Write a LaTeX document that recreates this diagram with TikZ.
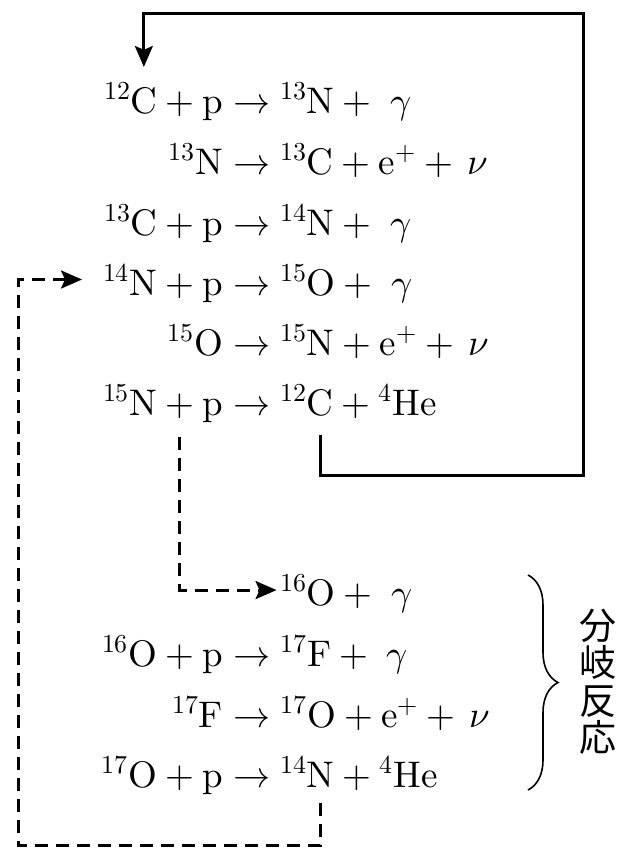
\documentclass[tikz,border=0pt]{standalone}
\usepackage{unicode-math}
\setmathfont{Latin Modern Math}
\newfontfamily\cjk{Noto Sans CJK JP}
\usetikzlibrary{arrows.meta,positioning,decorations.pathreplacing}
\newcommand{\eqsize}{\fontsize{37}{40}\selectfont}
\newcommand{\nuc}[2]{{}^{#1}\symup{#2}}
\tikzset{
  eq/.style      ={inner sep=0pt,outer sep=0pt,font=\eqsize},
  mainloop/.style={line width=3pt,line join=miter,-{Stealth[length=21pt,width=18pt,inset=4pt]}},
  sideloop/.style={mainloop,dash pattern=on 13pt off 8pt},
  bracket/.style ={decorate,decoration={brace,amplitude=30pt},line width=1.6pt},
}

\begin{document}
\begin{tikzpicture}[x=1pt,y=-1pt]
  \useasboundingbox (0,0) rectangle (622,849);
  \def\ax{223}
  % reaction arrows, all in one column
  \foreach \n/\y in {1/113,2/174,3/235,4/295,5/355,6/415,8/666,9/727,10/787}
    \node[eq,anchor=base west] (a\n) at (\ax,\y) {${}\rightarrow{}$};
  % rows with nothing attached
  \foreach \n/\lhs/\rhs in {2/{\nuc{13}{N}}/{\nuc{13}{C}+\symup{e}^{+}+\,\nu},
      3/{\nuc{13}{C}+\symup{p}}/{\nuc{14}{N}+\;\gamma},
      5/{\nuc{15}{O}}/{\nuc{15}{N}+\symup{e}^{+}+\,\nu},
      8/{\nuc{16}{O}+\symup{p}}/{\nuc{17}{F}+\;\gamma},
      9/{\nuc{17}{F}}/{\nuc{17}{O}+\symup{e}^{+}+\,\nu}}{
    \node[eq,base left=0pt of a\n] (l\n) {$\lhs$};
    \node[eq,base right=0pt of a\n] (r\n) {$\rhs$};
  }
  % row 1
  \node[eq,base left=0pt of a1] (l1) {${}+\symup{p}$};
  \node[eq,base left=0pt of l1] (c12in) {$\symup{C}$};
  \node[eq,base left=0pt of c12in] (m1) {${}^{12}$};
  \node[eq,base right=0pt of a1] (r1) {$\nuc{13}{N}+\;\gamma$};
  % row 4
  \node[eq,base left=0pt of a4] (l4) {${}+\symup{p}$};
  \node[eq,base left=0pt of l4] (n14in) {$\nuc{14}{N}$};
  \node[eq,base right=0pt of a4] (r4) {$\nuc{15}{O}+\;\gamma$};
  % row 6
  \node[eq,base left=0pt of a6] (p6) {$\symup{p}$};
  \node[eq,base left=0pt of p6] (plus6) {${}+{}$};
  \node[eq,base left=0pt of plus6] (l6) {$\nuc{15}{N}$};
  \node[eq,base right=0pt of a6] (m6) {${}^{12}$};
  \node[eq,base right=0pt of m6] (c12out) {$\symup{C}$};
  \node[eq,base right=0pt of c12out] (r6) {${}+\nuc{4}{He}$};
  % row 7 (branch entry)
  \coordinate (row7) at (0,605);
  \node[eq,anchor=base west] (o16) at (a6.base east |- row7) {$\nuc{16}{O}$};
  \node[eq,base right=0pt of o16] (r7) {${}+\;\gamma$};
  % row 10
  \node[eq,base left=0pt of a10] (l10) {$\nuc{17}{O}+\symup{p}$};
  \node[eq,base right=0pt of a10] (m10) {${}^{14}$};
  \node[eq,base right=0pt of m10] (n14out) {$\symup{N}$};
  \node[eq,base right=0pt of n14out] (r10) {${}+\nuc{4}{He}$};
  % main cycle back to the top
  \coordinate (ne) at (583,13);
  \coordinate (se) at (583,475);
  \draw[mainloop] ([yshift=-20pt]c12out.base) |- (se) -- (ne) -| ([yshift=20pt]c12in.north);
  % branch
  \draw[sideloop] ([yshift=-22pt]plus6.base) |- ([xshift=-4pt]o16.west);
  \coordinate (sw) at (18,845);
  \draw[sideloop] ([yshift=-16pt]n14out.base) |- (sw) |- ([xshift=-21pt]n14in.west);
  % brace and label
  \coordinate (bt) at (528,575);
  \coordinate (bb) at (528,790);
  \draw[bracket] (bt) -- (bb);
  \node[font=\cjk\fontsize{37}{37.5}\selectfont,align=center,inner sep=0pt] (bunki) at (598,682) {分\\岐\\反\\応};
\end{tikzpicture}
\end{document}
